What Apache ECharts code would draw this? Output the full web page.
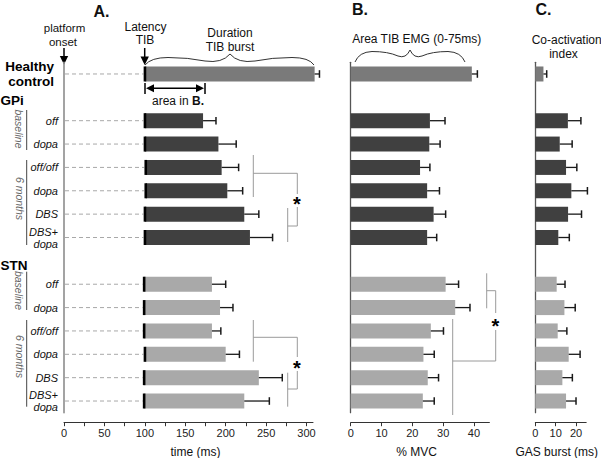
<!DOCTYPE html>
<html>
<head>
<meta charset="utf-8">
<script src="https://cdn.jsdelivr.net/npm/echarts@6/dist/echarts.min.js"></script>
<style>
html,body{margin:0;padding:0;background:#fff;}
#chart{width:601px;height:458px;}
</style>
</head>
<body>
<div id="chart"></div>
<script>
// ---------- data ----------
const rowLabels = ['Healthy\ncontrol', '', 'off', 'dopa', 'off/off', 'dopa', 'DBS', 'DBS+\ndopa', '', 'off', 'dopa', 'off/off', 'dopa', 'DBS', 'DBS+\ndopa'];
const healthyRow = 0, gpiFirstRow = 2, stnFirstRow = 9;

// Panel A: TIB latency and burst duration (ms)
const healthyLatency = [100];
const healthyDuration = [210];
const healthyDurationSD = [6];
const gpiLatency = [100, 100, 101, 101, 100, 100];
const gpiDuration = [72, 91, 94, 101, 123, 130];
const gpiDurationSD = [16, 22, 21, 19, 18, 28];
const stnLatency = [99, 99, 99, 100, 99, 99];
const stnDuration = [84, 94, 84, 100, 142, 124];
const stnDurationSD = [17, 16, 11, 17, 29, 31];

// Panel B: area TIB EMG 0-75 ms (% MVC)
const healthyArea = [39.3];
const healthyAreaSD = [1.8];
const gpiArea = [25.7, 25.5, 22.5, 24.8, 26.9, 24.8];
const gpiAreaSD = [4.9, 3.5, 3.2, 4.0, 3.9, 3.1];
const stnArea = [30.8, 33.9, 26.0, 23.6, 25.0, 23.4];
const stnAreaSD = [4.2, 4.8, 4.1, 3.5, 3.5, 3.7];

// Panel C: co-activation index, GAS burst (ms)
const healthyCoact = [4.0];
const healthyCoactSD = [1.6];
const gpiCoact = [16.0, 12.0, 15.1, 17.7, 16.1, 11.3];
const gpiCoactSD = [6.4, 6.1, 5.3, 7.9, 6.6, 5.4];
const stnCoact = [10.5, 14.3, 11.0, 16.4, 13.3, 15.1];
const stnCoactSD = [4.1, 5.3, 4.5, 5.6, 4.9, 4.9];

// tick labels
const timeTicks = [0, 25, 50, 75, 100, 125, 150, 175, 200, 225, 250, 275, 300];
const timeLabels = [0, 50, 100, 150, 200, 250, 300];
const mvcLabels = [0, 10, 20, 30, 40];
const gasLabels = [0, 10, 20];

// ---------- styling ----------
const FONT = '"Liberation Sans", Arial, Helvetica, sans-serif';
const groupColors = ['#7a7a7a', '#404040', '#a9a9a9']; // healthy, GPi, STN
const BAR_H = 15;

function buildA() {
  const d = [[healthyRow, healthyLatency[0], healthyDuration[0], healthyDurationSD[0], 0]];
  gpiDuration.forEach((v, i) => d.push([gpiFirstRow + i, gpiLatency[i], v, gpiDurationSD[i], 1]));
  stnDuration.forEach((v, i) => d.push([stnFirstRow + i, stnLatency[i], v, stnDurationSD[i], 2]));
  return d;
}
function buildSimple(h, hsd, g, gsd, s, ssd) {
  const d = [[healthyRow, h[0], hsd[0], 0]];
  g.forEach((v, i) => d.push([gpiFirstRow + i, v, gsd[i], 1]));
  s.forEach((v, i) => d.push([stnFirstRow + i, v, ssd[i], 2]));
  return d;
}

function errorBar(x1, x2, y) {
  return [
    {type: 'line', shape: {x1: x1, y1: y, x2: x2, y2: y}, style: {stroke: '#1a1a1a', lineWidth: 1.3}},
    {type: 'line', shape: {x1: x2, y1: y - 3.8, x2: x2, y2: y + 3.8}, style: {stroke: '#1a1a1a', lineWidth: 1.5}}
  ];
}

function renderA(params, api) {
  const row = api.value(0), lat = api.value(1), dur = api.value(2), sd = api.value(3), grp = api.value(4);
  const p0 = api.coord([0, row]);
  const pL = api.coord([lat, row]);
  const pE = api.coord([lat + dur, row]);
  const pR = api.coord([lat + dur + sd, row]);
  const y = pL[1];
  return {
    type: 'group',
    children: [
      {type: 'line', shape: {x1: p0[0] + 1, y1: y, x2: pL[0] - 1.5, y2: y}, style: {stroke: '#a8a8a8', lineWidth: 1, lineDash: [4, 3]}},
      {type: 'rect', shape: {x: pL[0], y: y - BAR_H / 2, width: pE[0] - pL[0], height: BAR_H}, style: {fill: groupColors[grp]}},
      {type: 'rect', shape: {x: pL[0] - 1.2, y: y - BAR_H / 2, width: 2.6, height: BAR_H}, style: {fill: '#000'}}
    ].concat(errorBar(pE[0], pR[0], y))
  };
}

function renderSimple(params, api) {
  const row = api.value(0), val = api.value(1), sd = api.value(2), grp = api.value(3);
  const p0 = api.coord([0, row]);
  const pE = api.coord([val, row]);
  const pR = api.coord([val + sd, row]);
  const y = p0[1];
  return {
    type: 'group',
    children: [
      {type: 'rect', shape: {x: p0[0], y: y - BAR_H / 2, width: pE[0] - p0[0], height: BAR_H}, style: {fill: groupColors[grp]}}
    ].concat(errorBar(pE[0], pR[0], y))
  };
}

const GRID_TOP = 62.3, GRID_H = 350.4;
const grids = [
  {left: 64, top: GRID_TOP, width: 249, height: GRID_H, outerBoundsMode: 'none', containLabel: false},
  {left: 350.7, top: GRID_TOP, width: 138.7, height: GRID_H, outerBoundsMode: 'none', containLabel: false},
  {left: 535.3, top: GRID_TOP, width: 50.9, height: GRID_H, outerBoundsMode: 'none', containLabel: false}
];

function xAxisCfg(gridIndex, max, tickVals, labelVals, name, namePad) {
  return {
    type: 'value', gridIndex: gridIndex, min: 0, max: max, position: 'bottom', offset: 10,
    splitLine: {show: false},
    axisLine: {show: true, lineStyle: {color: '#333', width: 1}},
    axisTick: {show: true, length: 3.5, customValues: tickVals, lineStyle: {color: '#333', width: 1}},
    axisLabel: {show: true, customValues: labelVals, margin: 5, fontSize: 11, color: '#222', fontFamily: FONT},
    name: name, nameLocation: 'middle', nameGap: 23,
    nameTextStyle: {fontSize: 12, color: '#111', fontFamily: FONT, padding: namePad}
  };
}

function yAxisCfg(gridIndex, lineColor, lineWidth, showLabels) {
  return {
    type: 'category', gridIndex: gridIndex, data: rowLabels, inverse: true,
    axisLine: {show: true, lineStyle: {color: lineColor, width: lineWidth}},
    axisTick: {show: false},
    splitLine: {show: false},
    axisLabel: showLabels ? {
      show: true, interval: 0, margin: 6, fontSize: 11, fontStyle: 'italic', color: '#111',
      fontFamily: FONT, lineHeight: 12,
      formatter: function (v, idx) {
        if (idx === healthyRow) return '{h|Healthy}\n{h|control}';
        return v;
      },
      rich: {h: {fontSize: 13.5, fontWeight: 'bold', fontStyle: 'normal', color: '#000', lineHeight: 15, fontFamily: FONT, padding: [0, 4, 0, 0]}}
    } : {show: false}
  };
}

// ---------- annotations ----------
function T(text, x, y, extra) {
  return {type: 'text', x: x, y: y, silent: true,
    style: Object.assign({text: text, fill: '#111', fontSize: 12, fontFamily: FONT, align: 'center', verticalAlign: 'middle'}, extra || {})};
}
function L(x1, y1, x2, y2, color, w) {
  return {type: 'line', silent: true, shape: {x1: x1, y1: y1, x2: x2, y2: y2}, style: {stroke: color || '#999', lineWidth: w || 1}};
}
function downArrow(x, yTop, yTip) {
  return [
    L(x, yTop, x, yTip - 6, '#000', 1.5),
    {type: 'polygon', silent: true, shape: {points: [[x - 4.2, yTip - 8.5], [x + 4.2, yTip - 8.5], [x, yTip]]}, style: {fill: '#000'}}
  ];
}
// brace drawn as chained quadratic curves: pts = [x0,y0, cx,cy,x,y, cx,cy,x,y, ...]
function brace(pts) {
  const out = [];
  let x0 = pts[0], y0 = pts[1];
  for (let i = 2; i + 3 < pts.length + 1; i += 4) {
    out.push({type: 'bezierCurve', silent: true,
      shape: {x1: x0, y1: y0, cpx1: pts[i], cpy1: pts[i + 1], x2: pts[i + 2], y2: pts[i + 3]},
      style: {fill: null, stroke: '#333', lineWidth: 1}});
    x0 = pts[i + 2]; y0 = pts[i + 3];
  }
  return out;
}

const SIG = '#9a9a9a';
const graphics = [
  T('A.', 101.5, 11.5, {fontSize: 16, fontWeight: 'bold'}),
  T('B.', 360, 9.5, {fontSize: 16, fontWeight: 'bold'}),
  T('C.', 543.5, 9.5, {fontSize: 16, fontWeight: 'bold'}),
  T('platform', 64.5, 28, {fontSize: 11.5}),
  T('onset', 63, 42, {fontSize: 11.5}),
  T('Latency', 145.5, 26.5),
  T('TIB', 145, 40),
  T('Duration', 230, 33),
  T('TIB burst', 230, 47),
  // area in B. double arrow
  L(150, 88.3, 200, 88.3, '#000', 1.5),
  L(145, 83, 145, 94, '#000', 1.5),
  L(205, 83, 205, 94, '#000', 1.5),
  {type: 'polygon', silent: true, shape: {points: [[146, 88.3], [154, 84.3], [154, 92.3]]}, style: {fill: '#000'}},
  {type: 'polygon', silent: true, shape: {points: [[204, 88.3], [196, 84.3], [196, 92.3]]}, style: {fill: '#000'}},
  {type: 'text', x: 178, y: 100.5, silent: true, style: {text: '{a|area in }{b|B.}', align: 'center', verticalAlign: 'middle',
    rich: {a: {fontSize: 12, fontFamily: FONT, fill: '#111'}, b: {fontSize: 12, fontFamily: FONT, fontWeight: 'bold', fill: '#111'}}}},
  T('Area TIB EMG (0-75ms)', 416.7, 39),
  T('Co-activation', 566.7, 40),
  T('index', 563.5, 53.5),
  // group labels
  T('GPi', 0.5, 100.5, {align: 'left', fontSize: 13.5, fontWeight: 'bold', fill: '#000'}),
  T('STN', 0.5, 265, {align: 'left', fontSize: 13.5, fontWeight: 'bold', fill: '#000'}),
  L(26.7, 110, 26.7, 150, '#444', 1),
  L(26.7, 160, 26.7, 245, '#444', 1),
  L(26.7, 271.7, 26.7, 310, '#444', 1),
  L(26.7, 320, 26.7, 406.7, '#444', 1),
  {type: 'text', x: 18.8, y: 129, rotation: -Math.PI / 2, silent: true, style: {text: 'baseline', fontSize: 10.5, fontStyle: 'italic', fontFamily: FONT, fill: '#666', align: 'center', verticalAlign: 'middle'}},
  {type: 'text', x: 19.5, y: 198.5, rotation: -Math.PI / 2, silent: true, style: {text: '6 months', fontSize: 10.5, fontStyle: 'italic', fontFamily: FONT, fill: '#666', align: 'center', verticalAlign: 'middle'}},
  {type: 'text', x: 18.8, y: 290.5, rotation: -Math.PI / 2, silent: true, style: {text: 'baseline', fontSize: 10.5, fontStyle: 'italic', fontFamily: FONT, fill: '#666', align: 'center', verticalAlign: 'middle'}},
  {type: 'text', x: 19.5, y: 356.5, rotation: -Math.PI / 2, silent: true, style: {text: '6 months', fontSize: 10.5, fontStyle: 'italic', fontFamily: FONT, fill: '#666', align: 'center', verticalAlign: 'middle'}},
  // significance brackets panel A, GPi
  L(253.3, 155, 253.3, 197, SIG), L(253.3, 173.3, 297.3, 173.3, SIG), L(297.3, 173.3, 297.3, 194, SIG),
  L(297.3, 207, 297.3, 226, SIG), L(287.7, 226, 297.3, 226, SIG), L(287.7, 208, 287.7, 242, SIG),
  T('*', 297, 204, {fontSize: 20, fontWeight: 'bold', fill: '#000'}),
  // panel A, STN
  L(253.3, 320, 253.3, 361.7, SIG), L(253.3, 337.3, 297.3, 337.3, SIG), L(297.3, 337.3, 297.3, 357, SIG),
  L(297.3, 371, 297.3, 389, SIG), L(287.7, 389, 297.3, 389, SIG), L(287.7, 372.7, 287.7, 406.7, SIG),
  T('*', 297, 368, {fontSize: 20, fontWeight: 'bold', fill: '#000'}),
  // panel B, STN
  L(486.7, 273.3, 486.7, 308.3, SIG), L(486.7, 290.7, 495.7, 290.7, SIG), L(495.7, 290.7, 495.7, 313, SIG),
  L(495.7, 330, 495.7, 361, SIG), L(452.7, 361, 495.7, 361, SIG), L(452.7, 319, 452.7, 415, SIG),
  T('*', 495.5, 326, {fontSize: 20, fontWeight: 'bold', fill: '#000'})
].concat(
  downArrow(64, 48, 64.5), downArrow(144.7, 48, 65),
  brace([145, 65, 151, 57.5, 168, 57.5, 188, 57.5, 205, 61, 222, 63.5, 230, 54, 238, 63.5, 255, 61, 272, 57.5, 292, 57.5, 309, 57.5, 314, 65]),
  brace([355, 62, 359, 52, 372, 51.5, 388, 51.5, 398, 56, 406, 59, 410, 50, 414, 59, 422, 56, 432, 51.5, 448, 51.5, 461, 52, 465, 62])
);

const chart = echarts.init(document.getElementById('chart'), null, {renderer: 'svg', width: 601, height: 458});
chart.setOption({
  animation: false,
  backgroundColor: '#ffffff',
  textStyle: {fontFamily: FONT},
  grid: grids,
  xAxis: [
    xAxisCfg(0, 308, timeTicks, timeLabels, 'time (ms)', [0, 0, 0, 14]),
    xAxisCfg(1, 45, mvcLabels, mvcLabels, '% MVC', [0, 7, 0, 0]),
    xAxisCfg(2, 25, gasLabels, gasLabels, 'GAS burst (ms)', [0, 8, 0, 0])
  ],
  yAxis: [
    yAxisCfg(0, '#8c8c8c', 1.6, true),
    yAxisCfg(1, '#555', 1.3, false),
    yAxisCfg(2, '#555', 1.3, false)
  ],
  series: [
    {type: 'custom', xAxisIndex: 0, yAxisIndex: 0, clip: false, encode: {x: 1, y: 0}, renderItem: renderA, data: buildA()},
    {type: 'custom', xAxisIndex: 1, yAxisIndex: 1, clip: false, encode: {x: 1, y: 0}, renderItem: renderSimple,
      data: buildSimple(healthyArea, healthyAreaSD, gpiArea, gpiAreaSD, stnArea, stnAreaSD)},
    {type: 'custom', xAxisIndex: 2, yAxisIndex: 2, clip: false, encode: {x: 1, y: 0}, renderItem: renderSimple,
      data: buildSimple(healthyCoact, healthyCoactSD, gpiCoact, gpiCoactSD, stnCoact, stnCoactSD)}
  ],
  graphic: graphics
});
</script>
</body>
</html>
